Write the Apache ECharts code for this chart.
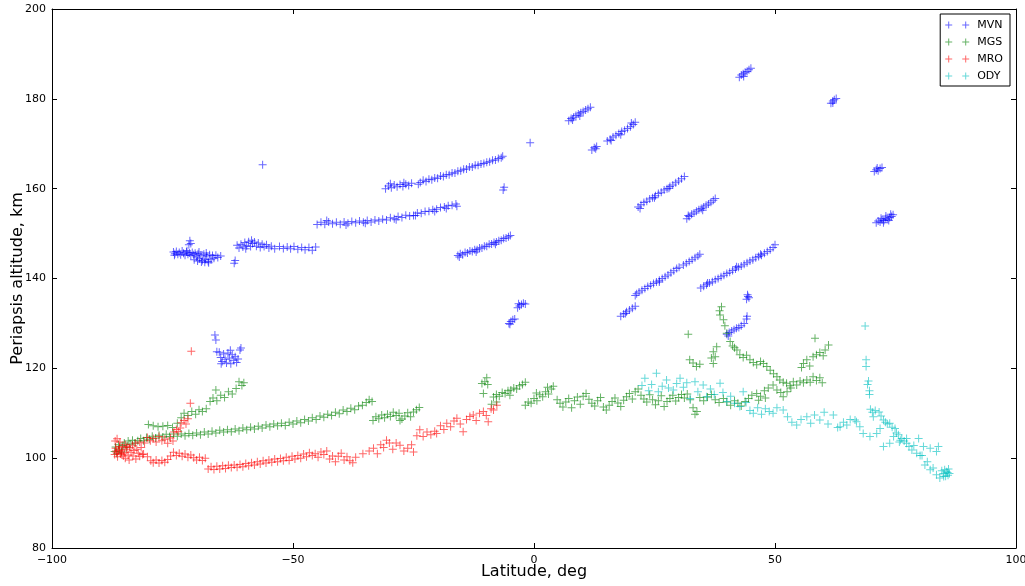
<!DOCTYPE html>
<html><head><meta charset="utf-8">
<script src="https://cdn.jsdelivr.net/npm/echarts@6/dist/echarts.min.js"></script>
<style>html,body{margin:0;padding:0;background:#fff}#c{width:1025px;height:586px}</style>
</head><body><div id="c"></div>
<script>
const seriesNames = ['MVN','MGS','MRO','ODY'];
const xTicks = [-100,-50,0,50,100];
const yTicks = [80,100,120,140,160,180,200];

const mvn = [
[-74.8,145.9],[-74.5,145.5],[-74.2,146.0],[-73.9,145.4],[-73.6,145.8],[-73.3,145.3],[-73.0,146.1],[-72.7,145.6],[-72.4,145.2],[-72.1,145.9],[-71.8,145.4],[-71.5,145.7],[-71.2,145.1],[-70.9,145.8],[-70.6,145.3],[-70.3,145.6],[-70.0,144.8],[-69.7,145.5],[-69.4,144.4],[-69.1,145.2],[-68.8,144.0],[-68.5,145.4],[-68.2,144.3],[-67.9,145.0],[-67.6,143.8],[-67.3,145.3],[-67.0,144.2],[-66.7,145.1],[-66.4,144.5],[-66.0,145.2],[-65.6,144.7],[-65.0,145.0],
[-70.5,144.2],[-69.8,143.9],[-69.0,143.7],[-68.3,143.6],[-67.5,143.5],[-69.5,145.9],[-68.0,145.7],[-74.6,145.2],[-72.0,146.2],
[-71.4,148.4],[-71.6,147.5],[-71.2,147.8],
[-65.3,123.6],[-65.0,122.4],[-64.7,121.5],[-64.4,123.2],[-64.1,122.0],[-63.8,121.2],[-63.5,123.4],[-63.2,122.3],[-62.9,121.0],[-62.6,123.0],[-62.3,121.8],[-62.0,122.6],[-61.7,121.3],[-61.4,122.1],[-64.9,121.0],[-63.0,124.0],[-61.0,124.1],[-60.8,124.5],[-66.2,127.4],[-66.0,126.3],[-65.8,123.7],
[-61.6,147.4],[-61.2,146.8],[-60.8,147.6],[-60.4,147.0],[-60.0,148.0],[-59.6,147.3],[-59.2,148.2],[-58.8,147.1],[-58.4,147.8],[-58.0,148.1],[-57.6,147.2],[-57.2,147.9],[-56.8,146.9],[-56.4,147.6],[-56.0,147.1],[-55.5,147.5],[-55.0,146.8],[-54.5,147.2],[-53.8,146.6],[-52.8,147.1],[-52.0,146.7],[-51.2,147.0],[-50.5,146.6],[-49.8,147.1],[-49.0,146.5],[-48.2,146.9],[-47.5,146.4],[-46.7,146.9],[-46.0,146.3],[-45.3,147.0],[-58.6,148.5],[-59.8,146.6],
[-62.2,143.4],[-62.0,144.0],[-56.3,165.3],
[-45.0,152.0],[-44.2,152.5],[-43.4,152.1],[-42.6,152.6],[-41.8,152.2],[-41.0,152.5],[-40.2,152.1],[-39.4,152.6],[-38.6,152.3],[-37.8,152.7],[-37.0,152.4],[-36.2,152.8],[-35.4,152.5],[-34.6,152.9],[-33.8,152.6],[-33.0,153.0],[-32.2,152.8],[-31.4,153.2],[-30.6,153.0],[-29.8,153.5],[-29.0,153.3],[-28.2,153.8],[-27.4,153.6],[-26.6,154.1],[-25.8,153.9],[-25.0,154.0],[-24.2,154.6],[-23.4,154.5],[-22.6,154.9],[-21.8,155.0],[-21.0,155.3],[-20.2,155.4],[-19.4,155.8],[-18.6,155.9],[-17.8,156.2],[-17.0,156.3],[-16.2,156.6],[-16.0,156.1],
[-43.0,152.9],[-39.0,151.9],[-35.0,152.3],[-28.6,153.1],[-24.6,154.0],[-20.6,154.9],[-18.2,155.6],
[-30.8,160.0],[-30.2,160.6],[-29.6,160.2],[-29.0,160.8],[-28.4,160.4],[-27.8,160.9],[-27.2,160.5],[-26.6,161.0],[-26.0,160.7],[-25.4,161.2],[-23.6,161.4],[-23.0,161.9],[-22.4,161.6],[-21.8,162.1],[-21.2,162.0],[-20.6,162.4],[-20.0,162.3],[-19.4,162.8],[-18.8,162.7],[-18.2,163.1],[-17.6,163.1],[-17.0,163.5],[-16.4,163.5],[-15.8,163.9],[-15.2,164.0],[-14.6,164.3],[-14.0,164.4],[-13.4,164.8],[-12.8,164.8],[-12.2,165.2],[-11.6,165.2],[-11.0,165.5],[-10.4,165.6],[-9.8,165.9],[-9.2,166.0],[-8.6,166.3],[-8.0,166.4],[-7.4,166.7],[-6.8,166.9],[-6.5,167.2],
[-29.8,161.1],[-27.0,161.3],[-24.0,161.0],
[-6.4,159.7],[-6.2,160.3],[-0.8,170.2],
[-15.8,145.1],[-15.3,145.5],[-14.8,145.3],[-14.3,145.8],[-13.8,145.7],[-13.3,146.1],[-12.8,146.0],[-12.3,146.4],[-11.8,146.4],[-11.3,146.8],[-10.8,146.8],[-10.3,147.2],[-9.8,147.2],[-9.3,147.6],[-8.8,147.7],[-8.3,148.0],[-7.8,148.1],[-7.3,148.4],[-6.8,148.5],[-6.3,148.9],[-5.8,149.0],[-5.3,149.3],[-4.9,149.6],[-15.5,144.8],[-12.0,145.9],[-8.0,147.6],
[-5.2,130.0],[-4.8,130.4],[-4.4,130.8],[-4.0,131.0],[-5.0,129.8],
[-3.4,133.5],[-3.0,133.9],[-2.6,134.2],[-2.2,134.5],[-1.8,134.3],[-3.2,134.4],
[7.2,175.1],[7.7,175.6],[8.2,175.9],[8.7,176.3],[9.2,176.6],[9.7,176.9],[10.2,177.2],[10.7,177.5],[11.2,177.8],[11.7,178.1],[8.0,175.3],[9.5,176.2],
[12.0,168.6],[12.5,169.1],[13.0,169.4],[12.8,168.9],
[15.2,170.6],[15.8,171.0],[16.4,171.5],[17.0,171.9],[17.6,172.3],[18.2,172.7],[18.8,173.0],[19.4,173.4],[20.0,173.8],[20.6,174.3],[21.0,174.8],[16.0,170.7],[18.0,172.0],[20.2,174.6],
[42.6,184.8],[43.0,185.3],[43.4,185.6],[43.8,185.9],[44.2,186.1],[44.6,186.5],[45.0,186.8],[43.5,185.0],
[61.6,179.0],[62.0,179.5],[62.3,179.8],[62.7,180.1],[62.0,179.1],
[21.6,155.9],[22.2,156.4],[22.8,156.9],[23.4,157.2],[24.0,157.7],[24.6,158.0],[25.2,158.4],[25.8,158.9],[26.4,159.2],[27.0,159.7],[27.6,160.0],[28.2,160.5],[28.8,160.8],[29.4,161.3],[30.0,161.7],[30.6,162.2],[31.2,162.7],[22.0,155.6],[25.0,158.0],[28.0,160.1],
[31.7,153.3],[32.2,153.8],[32.7,154.3],[33.2,154.6],[33.7,155.0],[34.2,155.3],[34.7,155.6],[35.2,155.9],[35.7,156.3],[36.2,156.6],[36.7,157.0],[37.2,157.4],[37.6,157.8],[32.0,154.0],[35.0,155.2],
[70.6,163.8],[71.0,164.2],[71.4,164.0],[71.8,164.5],[72.2,164.7],[71.2,164.6],
[71.0,152.4],[71.4,152.8],[71.8,152.6],[72.2,153.0],[72.6,152.9],[73.0,153.3],[73.4,153.2],[73.8,153.6],[74.2,153.8],[74.5,154.2],[72.0,153.4],[73.0,153.9],[74.0,154.3],[72.5,152.4],[73.6,152.9],
[21.3,136.6],[21.8,137.0],[22.4,137.4],[23.0,137.8],[23.6,138.2],[24.2,138.5],[24.8,138.9],[25.4,139.2],[26.0,139.6],[26.6,140.0],[27.2,140.4],[27.8,140.8],[28.4,141.3],[29.0,141.7],[29.6,142.2],[30.1,142.5],[31.0,143.0],[31.6,143.4],[32.2,143.8],[32.8,144.2],[33.4,144.6],[34.0,145.0],[34.4,145.4],[21.0,136.2],[26.0,139.2],
[34.6,137.9],[35.2,138.3],[35.8,138.6],[36.4,139.0],[37.0,139.3],[37.6,139.7],[38.2,140.0],[38.8,140.4],[39.4,140.7],[40.0,141.1],[40.6,141.4],[41.2,141.8],[41.8,142.1],[42.4,142.5],[43.0,142.8],[43.6,143.2],[44.2,143.5],[44.8,143.9],[45.4,144.2],[46.0,144.6],[46.6,144.9],[47.2,145.2],[47.8,145.6],[48.4,146.0],[49.0,146.4],[49.6,146.9],[50.0,147.5],[36.0,139.0],[42.0,142.6],[47.0,145.4],
[44.1,135.4],[44.4,136.0],[44.6,135.7],[44.3,136.4],
[40.0,127.6],[40.5,128.0],[41.0,128.3],[41.5,128.6],[42.0,128.9],[42.5,129.1],[43.0,129.5],[43.6,130.0],[44.1,131.0],[44.2,131.6],[40.3,127.2],
[18.0,131.6],[18.6,132.1],[19.2,132.6],[19.8,133.0],[20.4,133.4],[21.0,133.8],[19.0,132.2]
];

const mgs = [
[-87.0,101.5],[-86.8,102.5],[-86.5,101.0],[-86.2,103.0],[-86.0,102.0],[-85.6,101.4],[-85.3,102.8],[-85.0,103.4],[-84.6,102.3],[-84.2,103.8],[-83.8,103.1],[-83.3,104.0],[-82.8,103.4],[-82.2,103.9],[-81.6,104.4],[-81.0,103.9],[-80.4,104.6],[-79.8,104.2],[-79.2,104.9],[-78.5,104.5],[-77.8,105.1],[-77.0,104.7],[-76.3,105.3],[-75.6,104.8],[-74.8,105.4],[-74.0,104.9],[-73.2,105.4],[-72.4,105.0],[-71.6,105.5],[-70.8,105.1],[-70.0,105.6],[-69.2,105.2],[-68.4,105.8],[-67.6,105.4],[-66.8,106.0],[-66.0,105.6],[-65.2,106.2],[-64.4,105.8],[-63.6,106.3],[-62.8,105.9],[-62.0,106.5],[-61.2,106.1],[-60.4,106.7],[-59.6,106.3],[-58.8,106.9],[-58.0,106.5],[-57.2,107.1],[-56.4,106.7],[-55.6,107.4],[-54.8,107.0],[-54.0,107.6],[-53.2,107.2],[-52.4,107.8],[-51.6,107.3],[-50.8,108.0],[-50.0,107.6],[-49.2,108.3],[-48.4,107.9],[-47.6,108.6],[-46.8,108.3],[-46.0,109.0],[-45.2,108.6],[-44.4,109.4],[-43.6,109.1],[-42.8,109.8],[-42.0,109.5],[-41.2,110.2],[-40.4,109.9],[-39.6,110.7],[-38.8,110.4],[-38.0,111.1],[-37.2,110.8],[-36.4,111.6],[-35.6,111.8],[-34.8,112.4],[-34.2,113.0],[-33.6,112.6],
[-80.0,107.5],[-79.0,107.2],[-78.0,107.0],[-77.0,107.1],[-76.0,107.3],[-75.0,106.8],[-74.0,107.8],[-73.2,109.0],[-72.6,110.0],[-71.8,109.5],[-71.0,110.4],[-70.2,109.8],[-69.5,110.8],[-68.8,110.4],[-68.0,111.0],[-67.2,112.6],[-66.6,113.4],[-65.8,112.8],[-65.0,114.0],[-64.2,113.5],[-63.4,114.8],[-62.6,114.3],[-61.8,115.5],[-61.2,117.0],[-60.6,116.2],[-60.2,116.8],[-66.0,115.2],
[-33.4,108.4],[-32.8,109.2],[-32.2,108.8],[-31.6,109.6],[-31.0,109.0],[-30.4,109.8],[-29.8,109.3],[-29.2,110.2],[-28.6,109.5],[-28.0,110.0],[-27.4,108.7],[-26.8,109.4],[-26.2,110.1],[-25.6,109.2],[-25.0,110.3],[-24.4,110.8],[-23.8,111.3],[-27.8,108.4],
[-10.8,116.6],[-10.2,117.0],[-9.8,117.9],[-10.5,114.4],[-9.6,116.4],
[-8.8,112.0],[-8.4,113.6],[-7.8,114.2],[-7.2,113.8],[-6.6,114.6],[-6.0,114.4],[-5.4,115.0],[-4.8,115.2],[-4.2,115.6],[-3.6,115.4],[-3.0,116.1],[-2.4,116.4],[-1.8,116.9],[-7.8,112.5],[-5.0,114.0],
[-1.8,111.8],[-1.2,112.5],[-0.6,112.2],[0.0,113.3],[0.6,112.8],[1.2,114.1],[1.8,113.7],[2.4,114.8],[3.0,114.3],[3.6,115.4],[4.0,116.0],[0.5,114.5],[2.8,115.8],
[4.8,113.0],[5.4,112.2],[6.0,111.4],[6.6,112.5],[7.2,113.3],[7.8,111.2],[8.4,112.8],[9.0,113.6],[9.6,112.0],[10.2,113.8],[10.8,114.4],[11.4,113.1],[12.0,112.2],[12.6,111.6],[13.2,112.8],[13.8,113.5],[14.4,111.4],[15.0,110.7],[15.6,111.8],[16.2,112.6],[16.8,113.4],[17.4,112.3],[18.0,111.5],[18.6,112.9],[19.2,113.7],[19.8,114.4],[20.4,113.2],[21.0,114.8],[21.6,115.4],[22.2,114.0],[22.8,113.2],[23.4,112.5],[24.0,114.1],[24.6,113.0],[25.2,111.9],[25.8,112.8],[26.4,113.9],[27.0,111.5],[27.6,112.6],[28.2,113.3],[28.8,114.0],[29.4,112.7],[30.0,113.5],[30.6,114.2],[31.2,113.4],[31.8,114.3],[32.4,113.0],[33.0,111.2],[33.4,109.8],[33.8,110.4],
[32.0,127.6],[32.3,121.9],[33.0,121.2],[33.7,120.4],[34.4,120.9],
[37.2,123.7],[37.9,124.8],[37.2,121.1],[36.8,122.3],[37.6,122.6],
[38.9,133.7],[38.5,132.8],[38.6,131.9],[39.3,130.8],[39.6,129.5],[40.0,127.8],[40.7,126.0],[41.2,125.0],[41.6,124.6],[42.1,124.1],[42.7,123.0],[43.4,122.4],[44.1,122.9],[44.8,121.9],[45.5,121.3],[46.2,120.8],[47.0,121.5],[47.6,121.1],[48.3,120.4],[49.0,119.6],[49.7,118.8],[50.4,118.1],[51.0,117.4],[51.7,116.9],[52.4,116.7],[53.1,116.1],[53.8,117.0],[54.5,116.3],[55.2,117.2],[55.9,116.8],[56.6,117.4],[57.3,116.9],[57.9,118.1],[58.6,117.3],[59.3,117.9],[59.8,116.8],
[55.5,120.2],[55.9,121.1],[56.6,121.9],[57.2,120.5],[57.9,122.6],[58.6,123.0],[59.3,123.5],[60.0,122.8],[60.4,124.1],[61.1,125.2],[58.3,126.7],
[34.4,113.5],[35.2,112.8],[36.0,113.6],[36.8,114.2],[37.6,113.0],[38.4,112.4],[39.3,113.3],[40.0,112.5],[40.8,111.8],[41.6,112.8],[42.3,112.2],[43.0,111.6],[43.8,112.6],[44.5,113.3],[45.2,114.0],[46.2,114.4],[47.0,113.8],[47.8,115.0],[48.6,115.6],[49.6,116.3],[50.4,115.2],[51.2,114.6],[51.7,113.7],[52.5,114.8],[53.3,115.6],[46.6,112.9],[48.0,113.4]
];

const mro = [
[-87.0,100.8],[-86.8,102.2],[-86.6,101.2],[-86.4,100.3],[-86.2,101.8],[-86.0,102.6],[-85.8,100.9],[-85.6,101.6],[-85.4,102.3],[-85.2,100.5],[-85.0,101.2],[-84.8,103.0],[-84.5,101.9],[-84.2,100.7],[-83.9,102.4],[-83.6,101.3],[-83.3,102.9],[-83.0,101.7],[-82.7,103.3],[-82.4,102.0],[-82.1,101.1],[-81.8,103.6],[-81.5,102.4],[-81.2,100.8],[-86.9,103.8],[-86.5,104.3],[-85.9,103.6],[-86.7,101.6],[-85.5,100.9],[-84.4,102.6],
[-80.8,103.4],[-80.2,104.6],[-79.6,103.9],[-79.0,104.4],[-78.4,103.6],[-77.8,104.8],[-77.2,103.9],[-76.6,104.2],[-76.0,103.3],[-75.4,104.5],[-74.9,103.8],
[-74.7,105.8],[-74.2,106.4],[-73.8,105.9],[-73.4,106.7],[-73.2,107.9],[-72.6,108.4],[-72.2,107.6],[-71.8,108.8],[-71.3,112.2],[-71.1,123.8],
[-84.8,100.0],[-84.0,99.6],[-83.2,100.5],[-82.6,99.8],[-81.8,100.4],[-81.0,100.9],[-80.2,100.3],[-79.5,99.4],[-79.0,99.0],[-78.4,99.6],[-77.8,98.9],[-77.2,99.5],[-76.6,99.1],[-76.0,99.7],[-75.4,100.5],[-74.8,101.3],[-74.2,100.6],[-73.6,101.1],[-73.0,100.4],[-72.4,100.9],[-71.8,100.2],[-71.2,100.7],[-70.6,100.1],[-70.0,99.6],[-69.4,100.2],[-68.8,99.5],[-68.2,100.0],
[-67.6,97.6],[-67.0,98.1],[-66.4,97.5],[-65.8,98.2],[-65.2,97.6],[-64.6,98.3],[-64.0,97.7],[-63.4,98.4],[-62.8,97.9],[-62.2,98.5],[-61.6,98.0],[-61.0,98.6],[-60.4,98.1],[-59.8,98.8],[-59.2,98.3],[-58.6,99.0],[-58.0,98.5],[-57.4,99.2],[-56.8,98.7],[-56.2,99.4],[-55.6,98.9],[-55.0,99.6],[-54.4,99.1],[-53.8,99.8],[-53.2,99.2],[-52.6,99.9],[-52.0,99.4],[-51.4,100.2],[-50.8,99.5],[-50.2,100.4],[-49.6,99.8],[-49.0,100.6],[-48.4,100.0],[-47.8,100.9],[-47.2,100.3],[-46.6,101.2],[-46.0,100.6],[-45.4,101.0],[-44.8,100.2],[-44.2,101.4],[-43.6,100.8],[-43.0,101.6],[-42.4,99.8],[-41.8,100.5],[-41.2,99.2],[-40.6,100.4],[-40.0,101.1],[-39.4,99.6],[-38.8,100.3],[-38.2,99.4],[-37.6,99.0],[-37.0,100.2],
[-35.5,101.0],[-34.2,101.6],[-33.3,102.2],[-32.5,101.0],[-31.8,103.0],[-31.2,102.4],[-30.6,104.0],[-30.0,103.4],[-29.3,102.0],[-28.6,103.4],[-27.8,102.9],[-27.0,101.6],[-26.2,102.2],[-25.4,103.0],[-25.0,101.4],[-24.3,105.0],[-23.7,106.3],[-23.0,104.8],[-22.2,105.8],[-21.4,105.2],[-20.6,106.0],[-20.2,105.5],[-19.4,107.2],[-18.7,106.4],[-18.1,107.8],[-17.3,107.0],[-16.6,108.3],[-16.0,108.9],[-15.3,107.6],[-14.7,105.9],[-14.0,108.6],[-13.3,109.3],[-12.6,109.6],[-12.0,108.4],[-11.3,110.0],[-10.5,110.4],[-9.9,109.5],[-9.5,108.1],[-8.9,111.0],[-8.4,110.7],[-7.7,111.8]
];

const ody = [
[22.4,116.2],[23.0,117.8],[23.8,115.0],[24.4,116.4],[25.4,118.9],[25.8,114.8],[26.6,116.0],[27.5,117.4],[27.9,115.6],[28.9,115.2],[29.6,116.6],[30.3,117.8],[31.0,115.8],[31.7,116.8],[32.4,113.3],[33.4,117.0],[34.0,114.8],[35.1,116.3],[35.8,113.7],[36.6,115.4],[37.4,114.2],[38.6,116.7],[39.2,114.6],[40.0,112.6],[40.8,113.8],[41.6,112.2],[42.7,111.5],[43.4,114.8],[44.0,112.4],[44.8,110.6],[45.5,110.0],[46.4,111.2],[47.2,109.8],[48.0,111.0],[48.8,110.4],[49.6,110.0],[50.4,111.2],[51.7,110.7],[52.6,109.2],[53.5,108.0],[54.5,107.4],[55.4,108.6],[56.6,109.2],[57.4,107.8],[58.2,109.6],[59.3,108.5],[60.2,110.2],[61.0,107.6],[62.1,109.6],[63.0,106.8],[63.5,107.0],[64.2,108.0],[64.9,107.4],[65.6,108.6],[66.6,108.5],[66.9,108.1],[67.6,107.0],[68.3,105.5],
[68.7,129.4],[68.9,121.9],[68.9,120.4],[69.4,117.2],[69.2,116.4],[69.6,115.0],[69.6,114.2],[69.7,104.8],[69.8,110.9],[70.2,110.2],[70.4,109.2],[70.8,110.6],[71.1,105.5],[71.6,110.3],[71.8,106.6],[72.0,109.4],[72.5,108.5],[72.5,102.6],[72.9,108.0],[73.3,107.6],[73.8,107.8],[73.8,103.3],[74.3,106.9],[74.9,106.6],[75.2,105.6],[75.6,105.2],[76.0,104.0],[76.3,104.4],[76.8,103.8],[77.3,103.3],[77.3,104.4],[77.8,102.6],[78.4,101.8],[78.8,102.8],[79.4,101.1],[79.8,104.4],[80.1,100.6],[80.5,100.6],[80.8,102.6],[81.1,98.5],[81.6,99.2],[82.2,97.4],[82.2,102.2],[82.8,97.8],[83.5,96.3],[83.5,101.5],[83.9,102.6],[84.2,95.6],[84.9,96.6],[85.2,97.4],[85.6,97.0],[85.9,96.2],[86.2,96.6],[85.4,96.0],[84.6,97.2],[86.0,97.6],[85.0,95.9],[85.8,96.8],[75.8,103.6],[74.6,104.8]
];

const colors = ['#0000ff','#008000','#ff0000','#00bfbf'];
const plus = 'path://M0,3.5L8,3.5L8,4.5L0,4.5Z M3.5,0L4.5,0L4.5,8L3.5,8Z';
const plus2 = 'path://M0,3L7,3L7,4L0,4Z M3,0L4,0L4,7L3,7Z M17,3L24,3L24,4L17,4Z M20,0L21,0L21,7L20,7Z';
const dataSets = [mvn, mgs, mro, ody];
const minus = v => String(v).replace('-', '\u2212');
const font = 'DejaVu Sans';

const chart = echarts.init(document.getElementById('c'), null, {renderer:'canvas'});
const axisCommon = {
  axisLine: {show:true, onZero:false, lineStyle:{color:'#000', width:1}},
  axisTick: {show:true, inside:true, length:5, lineStyle:{color:'#000'}},
  splitLine: {show:false},
  nameMoveOverlap: false
};
function xAx(pos, labels) {
  return Object.assign({}, axisCommon, {
    type:'value', position:pos, min:xTicks[0], max:xTicks[xTicks.length-1], interval:50,
    axisLabel:{show:labels, formatter:minus, color:'#000', fontFamily:font, fontSize:11, margin:7},
    name: labels ? 'Latitude, deg' : '', nameLocation:'middle', nameGap:16,
    nameTextStyle:{fontFamily:font, fontSize:16, color:'#000'}
  });
}
function yAx(pos, labels) {
  return Object.assign({}, axisCommon, {
    type:'value', position:pos, min:yTicks[0], max:yTicks[yTicks.length-1], interval:20,
    axisLabel:{show:labels, formatter:minus, color:'#000', fontFamily:font, fontSize:11, margin:6},
    name: labels ? 'Periapsis altitude, km' : '', nameLocation:'middle', nameGap:26,
    nameTextStyle:{fontFamily:font, fontSize:16, color:'#000'}
  });
}
chart.setOption({
  animation:false,
  backgroundColor:'#fff',
  grid:{left:52, right:9, top:9, bottom:38, containLabel:false, outerBoundsMode:'none'},
  xAxis:[xAx('bottom', true), xAx('top', false)],
  yAxis:[yAx('left', true), yAx('right', false)],
  legend:{
    orient:'vertical', right:15, top:14,
    data: seriesNames,
    icon: plus2, itemWidth:24, itemHeight:7, itemGap:5,
    borderColor:'#000', borderWidth:1, backgroundColor:'#fff', borderRadius:0,
    padding:[5,7,4,5],
    textStyle:{fontFamily:font, fontSize:11, color:'#000', padding:[0,0,0,3], lineHeight:12}
  },
  series: seriesNames.map((n,i)=>({
    name:n, type:'scatter', xAxisIndex:0, yAxisIndex:0,
    symbol:plus, symbolSize:8,
    itemStyle:{color:colors[i], opacity:0.6},
    data: dataSets[i],
    emphasis:{disabled:true}
  }))
});
</script></body></html>
